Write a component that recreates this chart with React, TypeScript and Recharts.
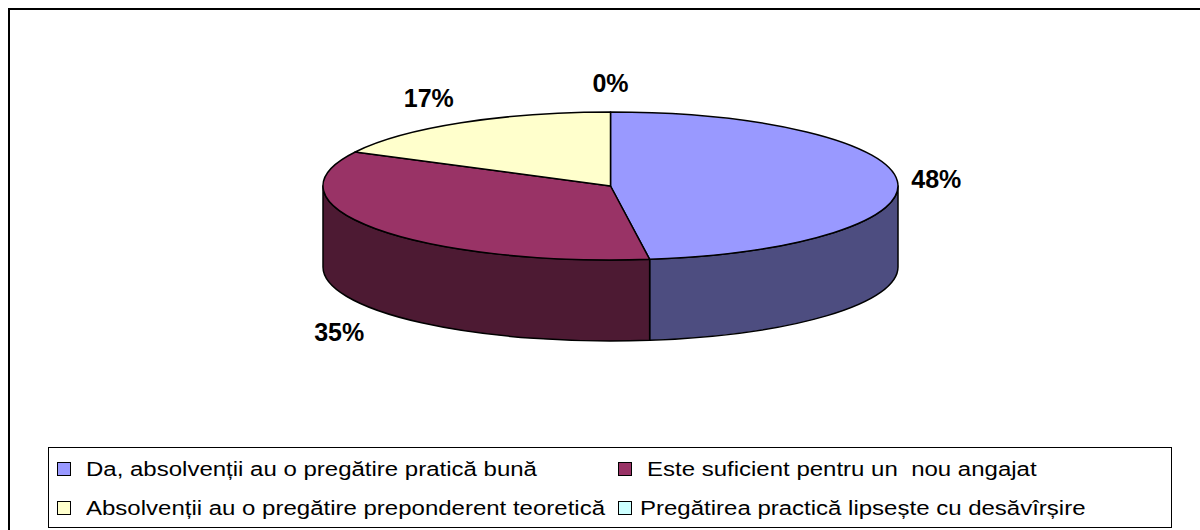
import React from "react";
import { PieChart, Pie, Legend } from "recharts";

// survey answers (counts), shown as percentages on the pie
const categories = [
  "Da, absolvenții au o pregătire pratică bună",
  "Este suficient pentru un  nou angajat",
  "Absolvenții au o pregătire preponderent teoretică",
  "Pregătirea practică lipsește cu desăvîrșire",
];
const responses = [11, 8, 4, 0];

const topColors = ["#9999FF", "#993366", "#FFFFCC", "#CCFFFF"];
const sideColors = ["#4D4D80", "#4D1A33", "#808066", "#668080"];

const chartData = categories.map((name, i) => ({ name, value: responses[i] }));

const W = 1192;
const H = 522;
const TILT = 74 / 287.5; // vertical squash of the pie disc
const DEPTH = 81 / 287.5; // thickness of the disc relative to radius
const FONT = "Arial, 'Liberation Sans', sans-serif";

// draws one 3D slice (side + top) plus its percent label, using the angles the Pie computed
function renderSlice(props: any) {
  const { cx, cy, outerRadius, startAngle, endAngle, index, percent } = props;
  const rx = outerRadius;
  const ry = outerRadius * TILT;
  const depth = outerRadius * DEPTH;
  const t0 = 90 - startAngle;
  const t1 = 90 - endAngle;
  const P = (t: number, dy = 0) => {
    const r = (t * Math.PI) / 180;
    return [cx + rx * Math.sin(r), cy - ry * Math.cos(r) + dy];
  };

  let side: string | null = null;
  const s0 = Math.max(t0, 90);
  const s1 = Math.min(t1, 270);
  if (s1 > s0) {
    const [ax, ay] = P(s0);
    const [bx, by] = P(s1);
    const [cx2, cy2] = P(s1, depth);
    const [dx, dy] = P(s0, depth);
    side = `M${ax},${ay} A${rx},${ry} 0 0 1 ${bx},${by} L${cx2},${cy2} A${rx},${ry} 0 0 0 ${dx},${dy} Z`;
  }

  let top: string | null = null;
  if (t1 - t0 > 0.01) {
    const [ax, ay] = P(t0);
    const [bx, by] = P(t1);
    const large = t1 - t0 > 180 ? 1 : 0;
    top = `M${cx},${cy} L${ax},${ay} A${rx},${ry} 0 ${large} 1 ${bx},${by} Z`;
  }

  const mid = (t0 + t1) / 2;
  const mr = (mid * Math.PI) / 180;
  const s = Math.sin(mr);
  const c = Math.cos(mr);
  const [px, py] = P(mid, c < 0 ? depth : 0);
  const lx = px + s * 14;
  const ly = py - c * (c < 0 ? 38 : 29);
  const anchor = Math.abs(s) < 0.3 ? "middle" : s > 0 ? "start" : "end";

  return (
    <g key={`slice-${index}`}>
      {side && (
        <path d={side} fill={sideColors[index]} stroke="#000" strokeWidth={1.5} strokeLinejoin="round" />
      )}
      {top && (
        <path d={top} fill={topColors[index]} stroke="#000" strokeWidth={1.5} strokeLinejoin="round" />
      )}
      <text
        x={lx}
        y={ly}
        textAnchor={anchor}
        dominantBaseline="central"
        fontFamily={FONT}
        fontWeight="bold"
        fontSize={25}
        fill="#000"
      >
        {Math.round(percent * 100)}%
      </text>
    </g>
  );
}

const renderLegend = () => (
  <div
    style={{
      position: "relative",
      width: "100%",
      height: "100%",
      border: "1px solid #000",
      boxSizing: "border-box",
      background: "#fff",
      fontFamily: FONT,
      fontSize: 20,
      color: "#000",
    }}
  >
    {categories.map((name, i) => (
      <div
        key={name}
        style={{
          position: "absolute",
          left: i % 2 === 0 ? 8 : 569,
          top: i < 2 ? 11 : 50,
          height: 20,
          display: "flex",
          alignItems: "center",
          whiteSpace: "pre",
        }}
      >
        <span
          style={{
            width: 12,
            height: 12,
            border: "1px solid #000",
            background: topColors[i],
            display: "inline-block",
          }}
        />
        <span
          style={{
            marginLeft: i === 3 ? 8 : 15,
            display: "inline-block",
            transform: "scaleX(1.2)",
            transformOrigin: "left center",
            lineHeight: "20px",
          }}
        >
          {name}
        </span>
      </div>
    ))}
  </div>
);

export default function App() {
  return (
    <div
      style={{
        position: "absolute",
        left: 8,
        top: 8,
        width: W,
        height: H,
        overflow: "hidden",
        background: "#fff",
      }}
    >
      <PieChart width={W} height={H} margin={{ top: 0, right: 0, bottom: 0, left: 0 }}>
        <rect x={1} y={1} width={W + 100} height={H + 100} fill="none" stroke="#000" strokeWidth={2} />
        <Pie
          data={chartData}
          dataKey="value"
          nameKey="name"
          cx={602.5}
          cy={178}
          outerRadius={287.5}
          startAngle={90}
          endAngle={-270}
          fill="none"
          stroke="none"
          label={renderSlice}
          labelLine={false}
          isAnimationActive={false}
        />
        <Legend
          content={renderLegend}
          wrapperStyle={{ position: "absolute", left: 40, top: 439, width: 1124, height: 81, bottom: "auto" }}
        />
      </PieChart>
    </div>
  );
}
